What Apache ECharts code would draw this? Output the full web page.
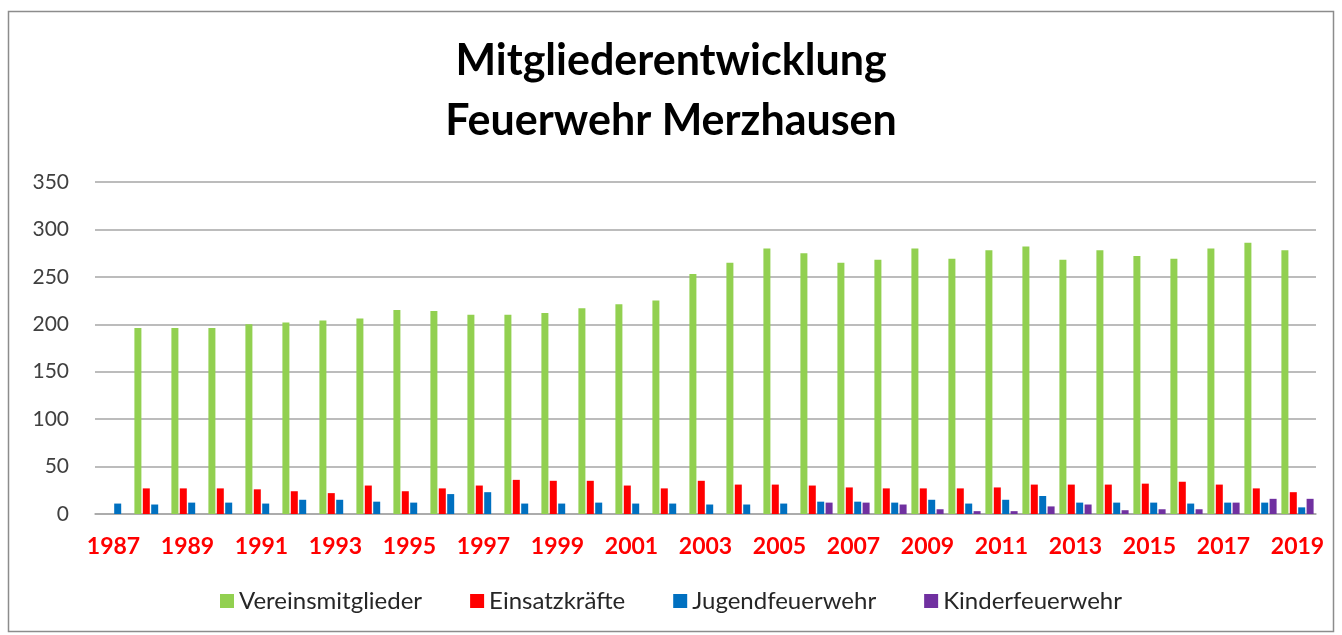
<!DOCTYPE html>
<html>
<head>
<meta charset="utf-8">
<script src="https://cdn.jsdelivr.net/npm/echarts@6/dist/echarts.min.js"></script>
<style>
html,body{margin:0;padding:0;background:#fff;}
#c{width:1342px;height:635px;}
</style>
</head>
<body>
<div id="c"></div>
<script>
const years = ['1987','1988','1989','1990','1991','1992','1993','1994','1995','1996','1997','1998','1999','2000','2001','2002','2003','2004','2005','2006','2007','2008','2009','2010','2011','2012','2013','2014','2015','2016','2017','2018','2019'];
const vereinsmitglieder = [null,196,196,196,200,202,204,206,215,214,210,210,212,217,221,225,253,265,280,275,265,268,280,269,278,282,268,278,272,269,280,286,278];
const einsatzkraefte = [null,27,27,27,26,24,22,30,24,27,30,36,35,35,30,27,35,31,31,30,28,27,27,27,28,31,31,31,32,34,31,27,23];
const jugendfeuerwehr = [11,10,12,12,11,15,15,13,12,21,23,11,11,12,11,11,10,10,11,13,13,12,15,11,15,19,12,12,12,11,12,12,7];
const kinderfeuerwehr = [null,null,null,null,null,null,null,null,null,null,null,null,null,null,null,null,null,null,null,12,12,10,5,3,3,8,10,4,5,5,12,16,16];
const yTicks = [0,50,100,150,200,250,300,350];
const seriesNames = ['Vereinsmitglieder','Einsatzkräfte','Jugendfeuerwehr','Kinderfeuerwehr'];
const colors = ['#92d050','#ff0000','#0070c0','#7030a0'];

const chart = echarts.init(document.getElementById('c'), null, {renderer:'canvas'});
const font = 'Lato, "Open Sans", sans-serif';
const dataSets = [vereinsmitglieder, einsatzkraefte, jugendfeuerwehr, kinderfeuerwehr];
chart.setOption({
  animation:false,
  backgroundColor:'#fff',
  title:{
    text:'Mitgliederentwicklung\nFeuerwehr Merzhausen',
    left:'center', top:26,
    textStyle:{fontFamily:font, fontWeight:'bold', fontSize:43, lineHeight:60, color:'#000'}
  },
  graphic:[{type:'rect', shape:{x:8.5,y:11.5,width:1325,height:620}, style:{fill:'none', stroke:'#8c8c8c', lineWidth:1.5}, silent:true}],
  legend:{
    bottom:17, left:'center', itemWidth:14, itemHeight:14, itemGap:48,
    icon:'rect',
    textStyle:{fontFamily:font, fontSize:24, color:'#262626'},
    data:seriesNames
  },
  grid:{left:95, right:26, top:182, bottom:121, containLabel:false},
  xAxis:{
    type:'category', data:years,
    axisLine:{show:true, lineStyle:{color:'#a6a6a6', width:1.5}},
    axisTick:{show:false},
    axisLabel:{interval:1, color:'#ff0000', fontWeight:'bold', fontFamily:font, fontSize:23, margin:21}
  },
  yAxis:{
    type:'value', min:0, max:350, interval:50,
    axisLine:{show:false}, axisTick:{show:false},
    splitLine:{lineStyle:{color:'#a6a6a6', width:1.5}},
    axisLabel:{color:'#404040', fontFamily:font, fontSize:21, margin:26,
      formatter:v=>yTicks.includes(v)?String(v):''}
  },
  series: seriesNames.map((n,i)=>({
    name:n, type:'bar', data:dataSets[i], barWidth:7, barGap:'20%',
    itemStyle:{color:colors[i]}
  }))
});
</script>
</body>
</html>
